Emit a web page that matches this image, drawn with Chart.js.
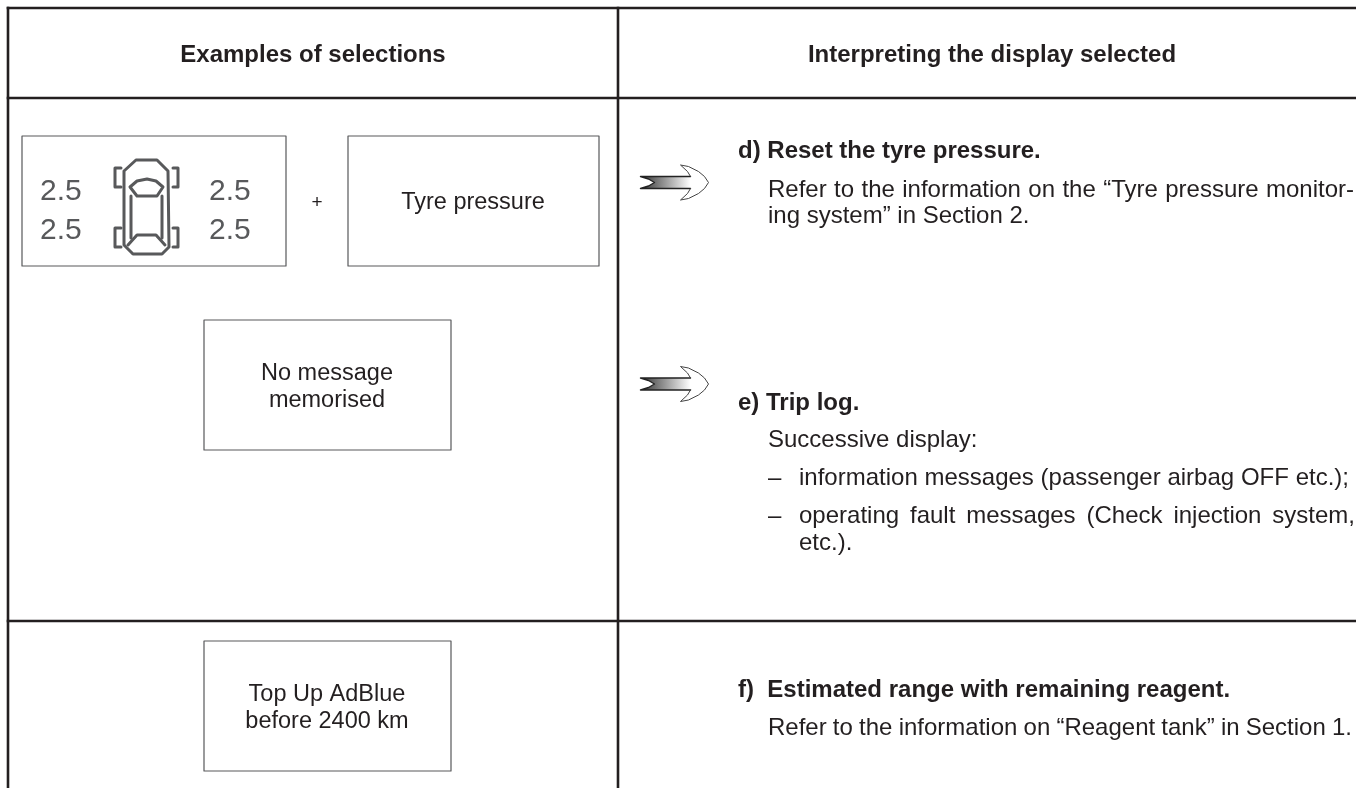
<!DOCTYPE html>
<html>
<head>
<meta charset="utf-8">
<title>Examples of selections</title>
<script src="https://cdn.jsdelivr.net/npm/chart.js@4"></script>
<style>
  html, body { margin: 0; padding: 0; background: #fff; overflow: hidden; }
  canvas { display: block; }
</style>
</head>
<body>
<canvas id="grafica" width="1356" height="788"></canvas>
<script>
// table rules, in page units: [x1, y1, x2, y2]
const tableRules = [
  [8, 8, 1356, 8], [8, 98, 1356, 98], [8, 621, 1356, 621],
  [8, 8, 8, 788], [618, 8, 618, 788]
];
// message boxes: [left, top, right, bottom]
const boxes = [
  [22, 136, 286, 266], [348, 136, 599, 266],
  [204, 320, 451, 450], [204, 641, 451, 771]
];

// car icon, each part is a polyline in icon units
const carParts = [
  [[36, 10], [57, 10], [68, 21], [69, 97], [62, 104], [33, 104], [24, 95], [24, 21], [36, 10]],
  [[30, 37], [37, 31], [47, 29], [56, 31], [63, 37], [57, 46], [37, 46], [30, 37]],
  [[28, 95], [37, 85], [56, 85], [65, 95]],
  [[31, 46], [31, 88]], [[62, 46], [62, 88]],
  [[21, 18], [15, 18], [15, 37], [21, 37]], [[73, 18], [78, 18], [78, 37], [73, 37]],
  [[21, 78], [15, 78], [15, 97], [21, 97]], [[73, 78], [78, 78], [78, 97], [73, 97]]
];
const carOrigin = [100, 150];

// arrow outline relative to its centre line
const arrowHead = [
  [50, -6], [47, -11], [40, -17.5], [48, -16], [58, -11], [64, -6], [68, 0],
  [64, 6], [58, 11], [48, 16], [40, 17.5], [47, 11], [50, 6]
];
const arrowShaft = [[50, -6], [0, -6], [8, -3.5], [14, 0], [8, 3.5], [0, 6], [50, 6]];
const arrowOrigins = [[640.5, 182.5], [640.5, 384]];

const headerLabels = ["Examples of selections", "Interpreting the display selected"];
const headerX = [313, 992];
const centredLabels = ["+", "Tyre pressure", "No message", "memorised", "Top Up AdBlue", "before 2400 km"];
const centredX = [317, 473, 327, 327, 327, 327];
const centredY = [208, 209, 380, 407, 701, 728];
const readingLabels = ["2.5", "2.5", "2.5", "2.5"];
const readingX = [40, 40, 209, 209];
const readingY = [200, 239, 200, 239];
const headings = ["d) Reset the tyre pressure.", "e) Trip log.", "f)  Estimated range with remaining reagent."];
const headingY = [158, 410, 697];
const bodyLines = [
  "Refer to the information on the “Tyre pressure monitor-",
  "ing system” in Section 2.",
  "Successive display:",
  "–",
  "information messages (passenger airbag OFF etc.);",
  "–",
  "operating fault messages (Check injection system,",
  "etc.).",
  "Refer to the information on “Reagent tank” in Section 1."
];
const bodyX = [768, 768, 768, 768, 799, 768, 799, 799, 768];
const bodyY = [197, 223, 447, 485, 485, 523, 523, 550, 735];
const bodyFit = [586, 0, 0, 0, 550, 0, 556, 0, 584];

function pts(list, origin) {
  return list.map(p => ({ x: p[0] + origin[0], y: p[1] + origin[1] }));
}

function lineSet(points, color, width) {
  return {
    type: 'line', data: points, borderColor: color, borderWidth: width,
    pointRadius: 0, fill: false, tension: 0, spanGaps: false,
    borderJoinStyle: 'round', borderCapStyle: 'round'
  };
}

const datasets = [];
tableRules.forEach(r => {
  const set = lineSet([{ x: r[0], y: r[1] }, { x: r[2], y: r[3] }], '#231f20', 2.6);
  set.borderCapStyle = 'square';
  datasets.push(set);
});
boxes.forEach(b => {
  datasets.push(lineSet([
    { x: b[0], y: b[1] }, { x: b[2], y: b[1] }, { x: b[2], y: b[3] }, { x: b[0], y: b[3] }, { x: b[0], y: b[1] }
  ], '#58595b', 1.2));
});
carParts.forEach(part => datasets.push(lineSet(pts(part, carOrigin), '#58595b', 3)));
arrowOrigins.forEach(o => {
  datasets.push(lineSet(pts(arrowHead, o), '#444', 1));
  datasets.push(lineSet(pts(arrowShaft, o), '#222', 1.4));
});

const textPlugin = {
  id: 'textos',
  beforeDatasetsDraw(chart) {
    // shaft shading sits under the outline
    const { ctx, scales: { x, y } } = chart;
    arrowOrigins.forEach(o => {
      const x0 = x.getPixelForValue(o[0]);
      const x1 = x.getPixelForValue(o[0] + arrowShaft[0][0]);
      const g = ctx.createLinearGradient(x0, 0, x1, 0);
      g.addColorStop(0, '#333');
      g.addColorStop(1, '#fff');
      ctx.save();
      ctx.fillStyle = g;
      ctx.beginPath();
      arrowShaft.forEach(p => {
        ctx.lineTo(x.getPixelForValue(o[0] + p[0]), y.getPixelForValue(o[1] + p[1]));
      });
      ctx.closePath();
      ctx.fill();
      ctx.restore();
    });
  },
  afterDatasetsDraw(chart) {
    const { ctx, scales: { x, y } } = chart;
    const put = (txt, px, py, font, align, fit) => {
      ctx.font = font;
      ctx.textAlign = align;
      ctx.wordSpacing = '0px';
      if (fit) {
        const gaps = txt.split(' ').length - 1;
        ctx.wordSpacing = ((fit - ctx.measureText(txt).width) / gaps) + 'px';
      }
      ctx.fillText(txt, x.getPixelForValue(px), y.getPixelForValue(py));
    };
    ctx.save();
    ctx.fillStyle = '#231f20';
    ctx.textBaseline = 'alphabetic';
    const sans = '"Liberation Sans", Arial, sans-serif';
    headerLabels.forEach((t, i) => put(t, headerX[i], 62, 'bold 24px ' + sans, 'center'));
    centredLabels.forEach((t, i) => put(t, centredX[i], centredY[i], (i === 0 ? '19px ' : '23.5px ') + sans, 'center'));
    headings.forEach((t, i) => put(t, 738, headingY[i], 'bold 24px ' + sans, 'left'));
    bodyLines.forEach((t, i) => put(t, bodyX[i], bodyY[i], '24px ' + sans, 'left', bodyFit[i]));
    ctx.fillStyle = '#58595b';
    readingLabels.forEach((t, i) => put(t, readingX[i], readingY[i], '30px ' + sans, 'left'));
    ctx.restore();
  }
};

new Chart(document.getElementById('grafica').getContext('2d'), {
  type: 'scatter',
  data: { datasets: datasets },
  options: {
    responsive: false,
    animation: false,
    layout: { padding: 0 },
    plugins: { legend: { display: false }, tooltip: { enabled: false } },
    scales: {
      x: { type: 'linear', min: 0, max: 1356, display: false },
      y: { type: 'linear', min: 0, max: 788, reverse: true, display: false }
    }
  },
  plugins: [textPlugin]
});
</script>
</body>
</html>
